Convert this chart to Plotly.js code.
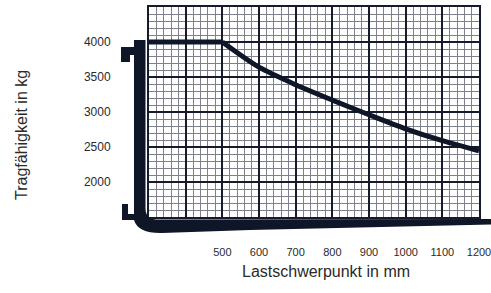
<!DOCTYPE html>
<html>
<head>
<meta charset="utf-8">
<script src="https://cdn.plot.ly/plotly-3.0.1.min.js"></script>
<style>html,body{margin:0;padding:0;background:#fff;}#chart{width:491px;height:293px;}</style>
</head>
<body>
<div id="chart"></div>
<script>
// Data
const flatDistance = [300, 500];            // mm, constant-capacity part
const flatCapacity = [4000, 4000];          // kg
const curveDistance = [500, 600, 700, 800, 900, 1000, 1100, 1200]; // mm
const curveCapacity = [4000, 3640, 3390, 3170, 2960, 2760, 2590, 2445]; // kg
const xTickVals = [400, 500, 600, 700, 800, 900, 1000, 1100, 1200];
const xTickText = ['', '500', '600', '700', '800', '900', '1000', '1100', '1200'];
const yTickVals = [2000, 2500, 3000, 3500, 4000];
const yTickText = ['2000', '2500', '3000', '3500', '4000'];
const xTitle = 'Lastschwerpunkt in mm';
const yTitle = 'Tragfähigkeit in kg';

const W = 491, H = 293;
const M = {l: 149, r: 12, t: 7, b: 76};
const PW = W - M.l - M.r, PH = H - M.t - M.b;
const px = x => ((x - M.l) / PW).toFixed(4);
const py = y => ((M.t + PH - y) / PH).toFixed(4);
function path(cmds) {
  return cmds.map(c => {
    if (c[0] === 'Z') return 'Z';
    if (c[0] === 'Q') return 'Q' + px(c[1]) + ',' + py(c[2]) + ' ' + px(c[3]) + ',' + py(c[4]);
    return c[0] + px(c[1]) + ',' + py(c[2]);
  }).join(' ');
}
// fork silhouette (decoration)
const forkPath = path([
  ['M', 134, 40], ['L', 145.5, 40], ['L', 145.5, 208], ['Q', 145.5, 219.5, 157, 219.5],
  ['L', 491, 219], ['L', 491, 224.5], ['L', 250, 230], ['L', 162, 233],
  ['Q', 138, 233.5, 134, 220], ['L', 122, 220], ['L', 122, 204], ['L', 128, 204],
  ['L', 128, 214], ['L', 134, 214], ['L', 134, 55], ['L', 130, 55], ['L', 130, 62],
  ['L', 121, 62], ['L', 121, 47], ['L', 134, 47], ['Z']
]);

const navy = '#0e1628';
const traces = [
  {x: flatDistance, y: flatCapacity, type: 'scatter', mode: 'lines',
   line: {color: navy, width: 5}, hoverinfo: 'skip'},
  {x: curveDistance, y: curveCapacity, type: 'scatter', mode: 'lines',
   line: {color: navy, width: 5, shape: 'spline', smoothing: 0.8}, hoverinfo: 'skip'}
];
const layout = {
  width: W, height: H,
  margin: M,
  paper_bgcolor: '#ffffff', plot_bgcolor: '#ffffff',
  showlegend: false,
  xaxis: {
    range: [300, 1200], tickmode: 'array', tickvals: xTickVals, ticktext: xTickText,
    showgrid: true, gridcolor: '#151a2c', gridwidth: 2,
    minor: {tickmode: 'linear', tick0: 300, dtick: 20, showgrid: true, gridcolor: '#80808c', gridwidth: 1, ticks: ''},
    showline: true, linecolor: '#151a2c', linewidth: 2, mirror: true,
    ticks: '', zeroline: false, ticklabelstandoff: 24, ticklabeloverflow: 'allow',
    tickfont: {family: 'Liberation Sans, Arial, sans-serif', size: 11, color: '#2a2a2a'},
    fixedrange: true
  },
  yaxis: {
    range: [1500, 4500], tickmode: 'array', tickvals: yTickVals, ticktext: yTickText,
    showgrid: true, gridcolor: '#151a2c', gridwidth: 2,
    minor: {tickmode: 'linear', tick0: 1500, dtick: 100, showgrid: true, gridcolor: '#80808c', gridwidth: 1, ticks: ''},
    showline: true, linecolor: '#151a2c', linewidth: 2, mirror: true,
    ticks: '', zeroline: false, ticklabelstandoff: 34,
    tickfont: {family: 'Liberation Sans, Arial, sans-serif', size: 12, color: '#2a2a2a'},
    fixedrange: true
  },
  shapes: [{
    type: 'path', xref: 'paper', yref: 'paper', path: forkPath,
    fillcolor: navy, line: {width: 0}, layer: 'above'
  }],
  annotations: [
    {text: xTitle, xref: 'paper', yref: 'paper', x: px(326), y: py(272), xanchor: 'center', yanchor: 'middle',
     showarrow: false, font: {family: 'Liberation Sans, Arial, sans-serif', size: 16, color: '#2a2a2a'}},
    {text: yTitle, xref: 'paper', yref: 'paper', x: px(22), y: py(135), xanchor: 'center', yanchor: 'middle',
     textangle: -90, showarrow: false, font: {family: 'Liberation Sans, Arial, sans-serif', size: 16, color: '#2a2a2a'}}
  ]
};
Plotly.newPlot('chart', traces, layout, {staticPlot: true, displayModeBar: false});
</script>
</body>
</html>
